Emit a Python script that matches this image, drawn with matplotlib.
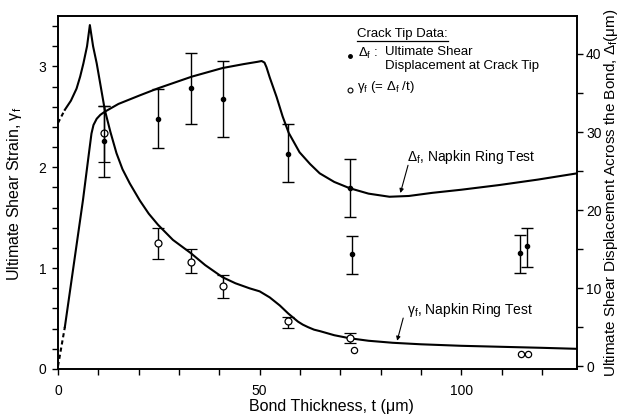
import matplotlib
matplotlib.use("Agg")
import matplotlib.pyplot as plt
import numpy as np
from matplotlib.ticker import MultipleLocator

plt.rcParams['font.family'] = ['Liberation Sans', 'DejaVu Sans']
plt.rcParams['mathtext.fontset'] = 'custom'
plt.rcParams['mathtext.rm'] = 'Liberation Sans'
plt.rcParams['mathtext.it'] = 'Liberation Sans:italic'

# ---- data ----
# Delta_f crack-tip data (right axis, um)
delta_t = [11.5, 24.8, 33.1, 40.9, 57.1, 72.3, 73.0, 114.5, 116.2]
delta_val = [28.8, 31.7, 35.6, 34.2, 27.2, 22.8, 14.4, 14.5, 15.4]
delta_lo = [24.2, 27.9, 31.0, 29.4, 23.6, 19.1, 11.8, 11.9, 12.7]
delta_hi = [33.3, 35.5, 40.1, 39.1, 31.0, 26.5, 16.7, 16.8, 17.7]

# gamma_f crack-tip data with error bars (left axis)
gamma_t = [11.5, 24.8, 32.9, 40.8, 57.1, 72.3]
gamma_val = [2.34, 1.25, 1.06, 0.82, 0.48, 0.31]
gamma_lo = [2.05, 1.09, 0.95, 0.70, 0.41, 0.26]
gamma_hi = [2.61, 1.40, 1.19, 0.93, 0.52, 0.36]

# gamma_f crack-tip data without error bars
gamma_t2 = [73.5, 114.8, 116.6]
gamma_val2 = [0.19, 0.15, 0.15]

# Napkin ring test curves
delta_curve_t = [0, 1.7, 6.2, 7.6, 8.3, 8.8, 9.6, 10.5, 11.6, 15.0, 20.3, 24.8,
                 33.2, 40.8, 46.0, 49.5, 50.5, 51.2, 51.7, 52.5, 54.2, 55.7, 57.2,
                 59.9, 62.5, 64.9, 68.5, 72.3, 77.0, 82.2, 87.0, 92.8, 100.0,
                 109.4, 119.0, 128.7]
delta_curve_v = [0, 5.0, 21.3, 27.0, 29.8, 30.9, 31.7, 32.2, 32.6, 33.6, 34.7,
                 35.6, 37.1, 38.2, 38.7, 39.0, 39.1, 38.9, 38.3, 37.0, 34.5, 32.0,
                 29.9, 27.4, 25.9, 24.7, 23.6, 22.8, 22.1, 21.7, 21.8, 22.2, 22.6,
                 23.2, 23.9, 24.7]

gamma_curve_t = [0, 1.7, 3.2, 4.6, 5.5, 6.3, 7.2, 7.9, 8.7, 9.6, 10.6, 11.6, 13.0,
                 14.5, 16.0, 17.8, 20.3, 22.5, 24.8, 28.5, 32.9, 36.5, 40.8, 44.0,
                 47.5, 50.0, 52.5, 55.0, 57.1, 58.3, 59.5, 60.7, 62.0, 63.5, 65.0,
                 68.5, 72.3, 77.0, 83.0, 90.0, 100.0, 110.0, 120.0, 128.7]
gamma_curve_v = [2.44, 2.57, 2.66, 2.78, 2.90, 3.03, 3.20, 3.41, 3.20, 3.03, 2.80,
                 2.57, 2.35, 2.14, 1.98, 1.84, 1.67, 1.54, 1.43, 1.28, 1.15, 1.03,
                 0.91, 0.85, 0.80, 0.77, 0.71, 0.63, 0.55, 0.51, 0.47, 0.44, 0.415,
                 0.39, 0.375, 0.335, 0.305, 0.28, 0.26, 0.245, 0.23, 0.22, 0.21,
                 0.20]

# ---- figure ----
fig = plt.figure(figsize=(6.2, 4.17), dpi=100)
ax = fig.add_axes([58/620, 48/417, 519/620, 353/417])
ax2 = ax.twinx()

lw_curve = 1.5
# gamma curve (left axis)
ax.plot(gamma_curve_t[:2], gamma_curve_v[:2], color='black', lw=lw_curve,
        ls=(0, (2, 1.5)))
ax.plot(gamma_curve_t[1:], gamma_curve_v[1:], color='black', lw=lw_curve)
# delta curve (right axis)
ax2.plot(delta_curve_t[:2], delta_curve_v[:2], color='black', lw=lw_curve,
         ls=(0, (2, 1.5)))
ax2.plot(delta_curve_t[1:], delta_curve_v[1:], color='black', lw=lw_curve)

# crack-tip data
d_val = np.array(delta_val)
d_err = [d_val - np.array(delta_lo), np.array(delta_hi) - d_val]
ax2.errorbar(delta_t, delta_val, yerr=d_err, fmt='o', color='black', ms=3,
             ecolor='black', elinewidth=1.0, capsize=4.5, capthick=1.0, zorder=4)

g_val = np.array(gamma_val)
g_err = [g_val - np.array(gamma_lo), np.array(gamma_hi) - g_val]
ax.errorbar(gamma_t, gamma_val, yerr=g_err, fmt='o', mfc='white', mec='black',
            mew=0.9, ms=5, ecolor='black', elinewidth=1.0, capsize=4.5,
            capthick=1.0, zorder=5)
ax.plot(gamma_t2, gamma_val2, 'o', mfc='white', mec='black', mew=0.9, ms=4.5,
        zorder=5)

# axes limits / ticks
ax.set_xlim(0, 128.7)
ax.set_ylim(0, 3.5)
ax2.set_ylim(-0.38, 44.87)

ax.xaxis.set_major_locator(MultipleLocator(50))
ax.xaxis.set_minor_locator(MultipleLocator(10))
ax.yaxis.set_major_locator(MultipleLocator(1))
ax.yaxis.set_minor_locator(MultipleLocator(0.2))
ax2.yaxis.set_major_locator(MultipleLocator(10))
ax2.yaxis.set_minor_locator(MultipleLocator(5))

for a in (ax, ax2):
    a.tick_params(which='both', direction='out', length=4.5, width=1.0,
                  labelsize=10, colors='black')
    for s in a.spines.values():
        s.set_linewidth(1.2)
ax.tick_params(axis='y', which='both', right=False, pad=4)
ax.tick_params(axis='x', which='both', top=False, pad=6)
ax2.tick_params(axis='y', which='both', pad=2)
ax2.set_ylim(-0.38, 44.87)

# axis labels placed in figure pixels
fig.text(331/620, 1 - 407/417, 'Bond Thickness, t (\u03bcm)', fontsize=11.5,
         ha='center', va='center')
fig.text(15/620, 1 - 193.5/417, 'Ultimate Shear Strain, \u03b3$_\\mathregular{f}$',
         fontsize=11.5, rotation=90, ha='center', va='center')
fig.text(611/620, 1 - 192.5/417,
         'Ultimate Shear Displacement Across the Bond, '
         '\u0394$_\\mathregular{f}$(\u03bcm)',
         fontsize=11, rotation=90, ha='center', va='center')

# curve labels with arrows (left axis data coords)
ax.text(86.6, 2.105, '\u0394$_\\mathregular{f}$, Napkin Ring Test', fontsize=10,
        ha='left', va='center')
ax.annotate('', xy=(84.9, 1.745), xytext=(86.8, 2.02),
            arrowprops=dict(arrowstyle='-|>', lw=0.8, color='black',
                            mutation_scale=6, shrinkA=0, shrinkB=0))
ax.text(86.6, 0.585, '\u03b3$_\\mathregular{f}$, Napkin Ring Test', fontsize=10,
        ha='left', va='center')
ax.annotate('', xy=(84.1, 0.28), xytext=(85.6, 0.505),
            arrowprops=dict(arrowstyle='-|>', lw=0.8, color='black',
                            mutation_scale=6, shrinkA=0, shrinkB=0))

# legend block (axes fraction)
fs_leg = 9.5
title = ax.text(0.576, 0.950, 'Crack Tip Data:', transform=ax.transAxes,
                fontsize=fs_leg, ha='left', va='center')
ax.plot([0.563], [0.887], 'o', color='black', ms=2.5, transform=ax.transAxes,
        clip_on=False)
ax.text(0.578, 0.895, '\u0394$_\\mathregular{f}$ :', transform=ax.transAxes,
        fontsize=fs_leg, ha='left', va='center')
ax.text(0.630, 0.897, 'Ultimate Shear', transform=ax.transAxes,
        fontsize=fs_leg, ha='left', va='center')
ax.text(0.630, 0.858, 'Displacement at Crack Tip', transform=ax.transAxes,
        fontsize=fs_leg, ha='left', va='center')
ax.plot([0.563], [0.790], 'o', mfc='white', mec='black', mew=0.8, ms=3.5,
        transform=ax.transAxes, clip_on=False)
ax.text(0.576, 0.799, '\u03b3$_\\mathregular{f}$ (= \u0394$_\\mathregular{f}$ /t)',
        transform=ax.transAxes, fontsize=fs_leg, ha='left', va='center')

# underline the legend title
fig.canvas.draw()
bb = title.get_window_extent().transformed(ax.transAxes.inverted())
ax.plot([bb.x0, bb.x1], [0.929, 0.929], color='black', lw=0.9,
        transform=ax.transAxes, clip_on=False)

fig.savefig('out.png', dpi=100)
